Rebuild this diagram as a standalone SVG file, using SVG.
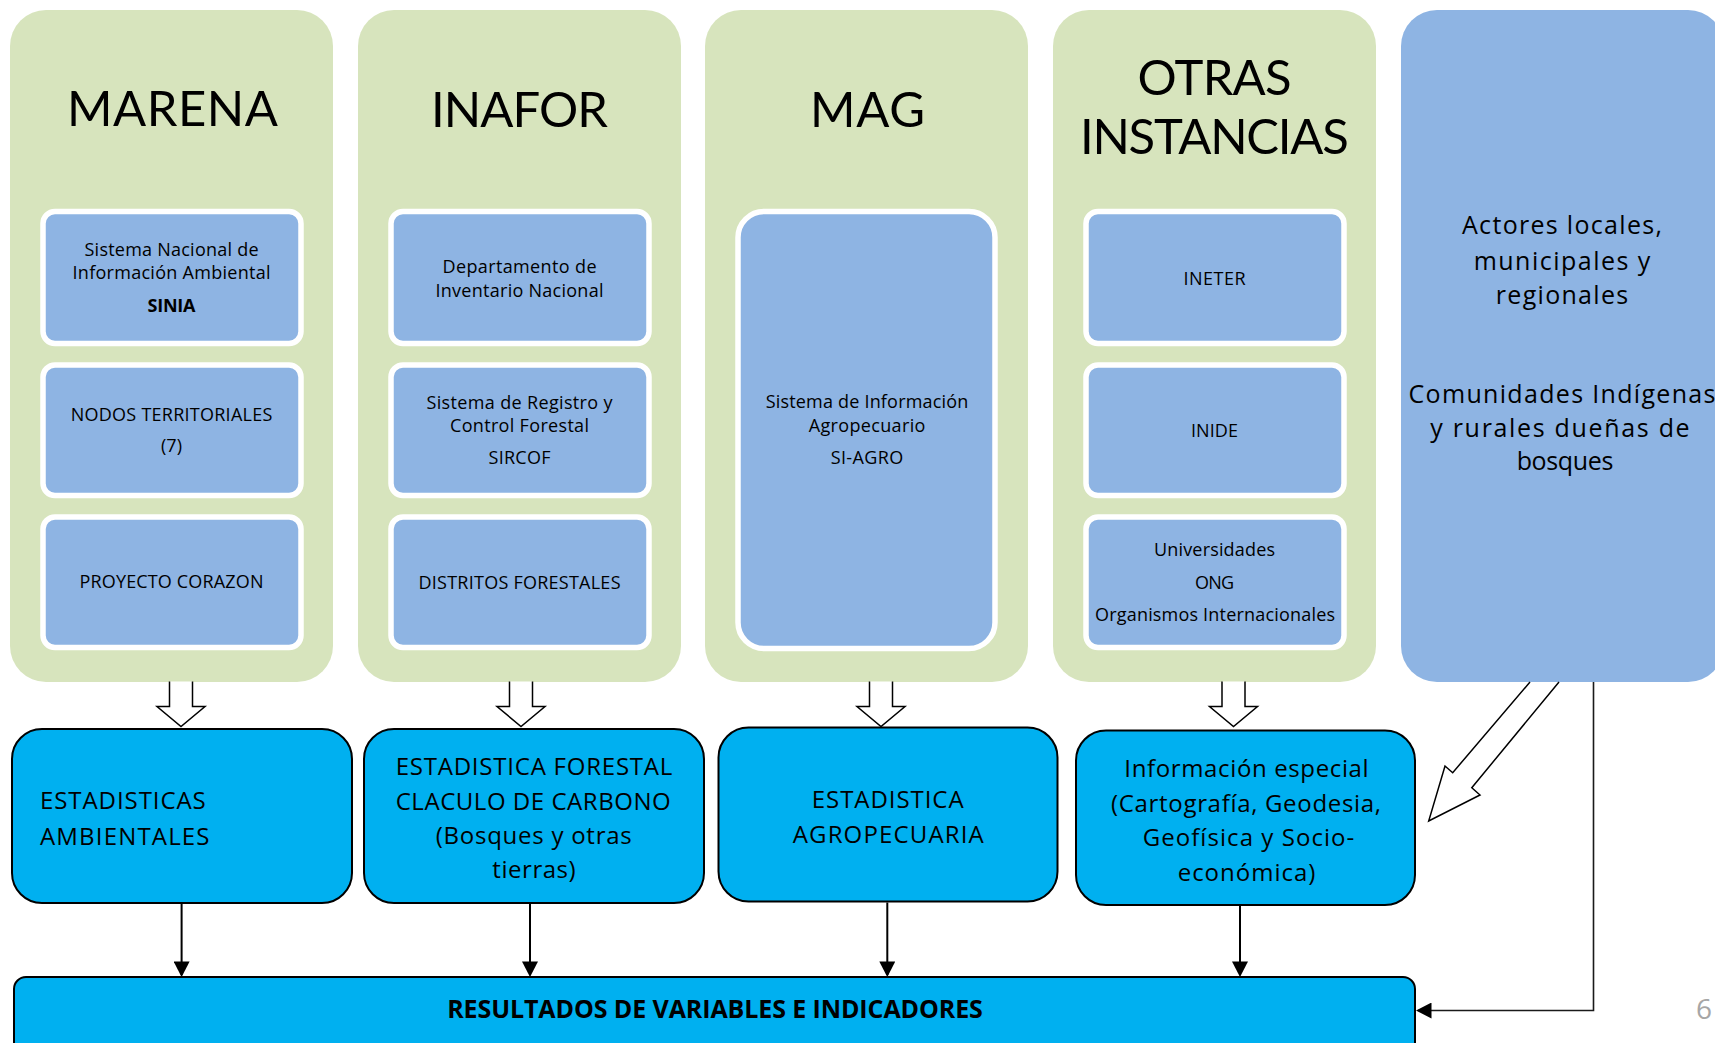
<svg xmlns="http://www.w3.org/2000/svg" xmlns:xlink="http://www.w3.org/1999/xlink" width="1715" height="1043" viewBox="0 0 1715 1043">
<style>
.grp{fill:#D7E4BD}
.act{fill:#8EB4E3}
.inner{fill:#8EB4E3;stroke:#FFFFFF;stroke-width:5.5}
.cy{fill:#00B0F0;stroke:#000000;stroke-width:2}
text{font-family:"Open Sans","Liberation Sans",sans-serif;fill:#000000}
.tt{font-family:Lato,"Open Sans",sans-serif;font-size:49px;text-anchor:middle}
.sm{font-size:18px;text-anchor:middle}
.md{font-size:24px;text-anchor:middle}
.lg{font-size:25px;text-anchor:middle}
.b{font-weight:bold}
.ba{fill:#FFFFFF;stroke:#000000;stroke-width:1.5;stroke-linejoin:miter}
.ln{fill:none;stroke:#000000;stroke-width:2}
.ln2{fill:none;stroke:#1A1A1A;stroke-width:1.6}
.pg{font-size:28px;fill:#A6A6A6}
</style>
<defs>
<marker id="ah" markerUnits="userSpaceOnUse" markerWidth="16" markerHeight="16" viewBox="0 0 15 15.4" refX="13" refY="7.7" orient="auto">
<path d="M0,0 L15,7.7 L0,15.4 Z" fill="#000000"/>
</marker>
<path id="barrow" class="ba" d="M-11.5,0 V25 H-24 L0,45 L24,25 H11.5 V0"/>
</defs>

<g id="marena">
<rect class="grp" x="10" y="10" width="323" height="672" rx="36"/>
<text class="tt" x="172.5" y="126" textLength="211">MARENA</text>
<rect class="inner" x="43" y="211.5" width="258" height="132" rx="12"/>
<text class="sm" x="171.5" y="256" textLength="174">Sistema Nacional de</text>
<text class="sm" x="171.5" y="279" textLength="198">Información Ambiental</text>
<text class="sm b" x="171.5" y="311.7" textLength="48">SINIA</text>
<rect class="inner" x="43" y="365" width="258" height="130.5" rx="12"/>
<text class="sm" x="171.5" y="420.7" textLength="201.7">NODOS TERRITORIALES</text>
<text class="sm" x="171.5" y="452">(7)</text>
<rect class="inner" x="43" y="517" width="258" height="130.5" rx="12"/>
<text class="sm" x="171.5" y="588.3" textLength="184">PROYECTO CORAZON</text>
</g>

<g id="inafor">
<rect class="grp" x="358" y="10" width="323" height="672" rx="36"/>
<text class="tt" x="519.5" y="127" textLength="177">INAFOR</text>
<rect class="inner" x="391" y="211.5" width="258" height="132" rx="12"/>
<text class="sm" x="519.5" y="273" textLength="154">Departamento de</text>
<text class="sm" x="519.5" y="297" textLength="168">Inventario Nacional</text>
<rect class="inner" x="391" y="365" width="258" height="130.5" rx="12"/>
<text class="sm" x="519.5" y="408.5" textLength="186">Sistema de Registro y</text>
<text class="sm" x="519.5" y="431.7" textLength="139">Control Forestal</text>
<text class="sm" x="519.5" y="464.3" textLength="62">SIRCOF</text>
<rect class="inner" x="391" y="517" width="258" height="130.5" rx="12"/>
<text class="sm" x="519.5" y="589.3" textLength="202">DISTRITOS FORESTALES</text>
</g>

<g id="mag">
<rect class="grp" x="705" y="10" width="323" height="672" rx="36"/>
<text class="tt" x="867.6" y="127" textLength="115">MAG</text>
<rect class="inner" x="738" y="211.5" width="257" height="437" rx="26"/>
<text class="sm" x="867" y="407.7" textLength="202.7">Sistema de Información</text>
<text class="sm" x="867" y="431.7" textLength="116.7">Agropecuario</text>
<text class="sm" x="867" y="464.3" textLength="72.7">SI-AGRO</text>
</g>

<g id="otras">
<rect class="grp" x="1053" y="10" width="323" height="672" rx="36"/>
<text class="tt" x="1214.6" y="95" textLength="154">OTRAS</text>
<text class="tt" x="1214.4" y="154.3" textLength="269">INSTANCIAS</text>
<rect class="inner" x="1086" y="211.5" width="258" height="132" rx="12"/>
<text class="sm" x="1214.5" y="284.8" textLength="62">INETER</text>
<rect class="inner" x="1086" y="365" width="258" height="130.5" rx="12"/>
<text class="sm" x="1214.5" y="436.6" textLength="47">INIDE</text>
<rect class="inner" x="1086" y="517" width="258" height="130.5" rx="12"/>
<text class="sm" x="1214.5" y="555.7" textLength="121">Universidades</text>
<text class="sm" x="1214.5" y="589" textLength="39">ONG</text>
<text class="sm" x="1215" y="621" textLength="240">Organismos Internacionales</text>
</g>

<g id="actores">
<rect class="act" x="1401" y="10" width="323" height="672" rx="36"/>
<text class="lg" x="1562" y="234.3" textLength="200">Actores locales,</text>
<text class="lg" x="1562" y="270" textLength="176.7">municipales y</text>
<text class="lg" x="1562" y="304" textLength="132.3">regionales</text>
<text class="lg" x="1562" y="402.7" textLength="307">Comunidades Indígenas</text>
<text class="lg" x="1560" y="436.7" textLength="259.3">y rurales dueñas de</text>
<text class="lg" x="1565" y="470" textLength="96.7">bosques</text>
</g>

<g id="est-ambientales">
<rect class="cy" x="12" y="729" width="340" height="174" rx="30"/>
<text class="md" style="text-anchor:start" x="40" y="809.3" textLength="165.7">ESTADISTICAS</text>
<text class="md" style="text-anchor:start" x="40" y="845" textLength="169.5">AMBIENTALES</text>
</g>

<g id="est-forestal">
<rect class="cy" x="364" y="729" width="340" height="174" rx="30"/>
<text class="md" x="534" y="774.7" textLength="276.7">ESTADISTICA FORESTAL</text>
<text class="md" x="533.2" y="809.7" textLength="275">CLACULO DE CARBONO</text>
<text class="md" x="533.7" y="844" textLength="196">(Bosques y otras</text>
<text class="md" x="534" y="878.3" textLength="83.3">tierras)</text>
</g>

<g id="est-agro">
<rect class="cy" x="718.5" y="727.5" width="339" height="174" rx="30"/>
<text class="md" x="887.7" y="808.3" textLength="151.8">ESTADISTICA</text>
<text class="md" x="888.2" y="843.3" textLength="191">AGROPECUARIA</text>
</g>

<g id="info-especial">
<rect class="cy" x="1076" y="730.5" width="339" height="174.5" rx="30"/>
<text class="md" x="1246.5" y="777.3" textLength="244.3">Información especial</text>
<text class="md" x="1246" y="812.3" textLength="270">(Cartografía, Geodesia,</text>
<text class="md" x="1248.5" y="846.3" textLength="211.7">Geofísica y Socio-</text>
<text class="md" x="1246.5" y="880.7" textLength="137.7">económica)</text>
</g>

<g id="resultados">
<rect class="cy" x="14" y="977" width="1401" height="95" rx="12"/>
<text class="lg b" x="715" y="1017.7" textLength="535.7">RESULTADOS DE VARIABLES E INDICADORES</text>
</g>

<g id="connectors">
<use xlink:href="#barrow" href="#barrow" x="181" y="681.5"/>
<use xlink:href="#barrow" href="#barrow" x="521" y="681.5"/>
<use xlink:href="#barrow" href="#barrow" x="881" y="681.5"/>
<use xlink:href="#barrow" href="#barrow" x="1233.5" y="681.5"/>
<path class="ba" d="M1530,682 L1452.7,772.7 L1445,766 L1428.7,821 L1480,795 L1471.8,787.7 L1559,682"/>
<path class="ln" d="M181.6,904 V975" marker-end="url(#ah)"/>
<path class="ln" d="M530,904 V975" marker-end="url(#ah)"/>
<path class="ln" d="M887.3,902.5 V975" marker-end="url(#ah)"/>
<path class="ln" d="M1240,906 V975" marker-end="url(#ah)"/>
<path class="ln2" d="M1593.5,682 V1010.5 H1418" marker-end="url(#ah)"/>
</g>

<text class="pg" x="1696" y="1019">6</text>
</svg>
